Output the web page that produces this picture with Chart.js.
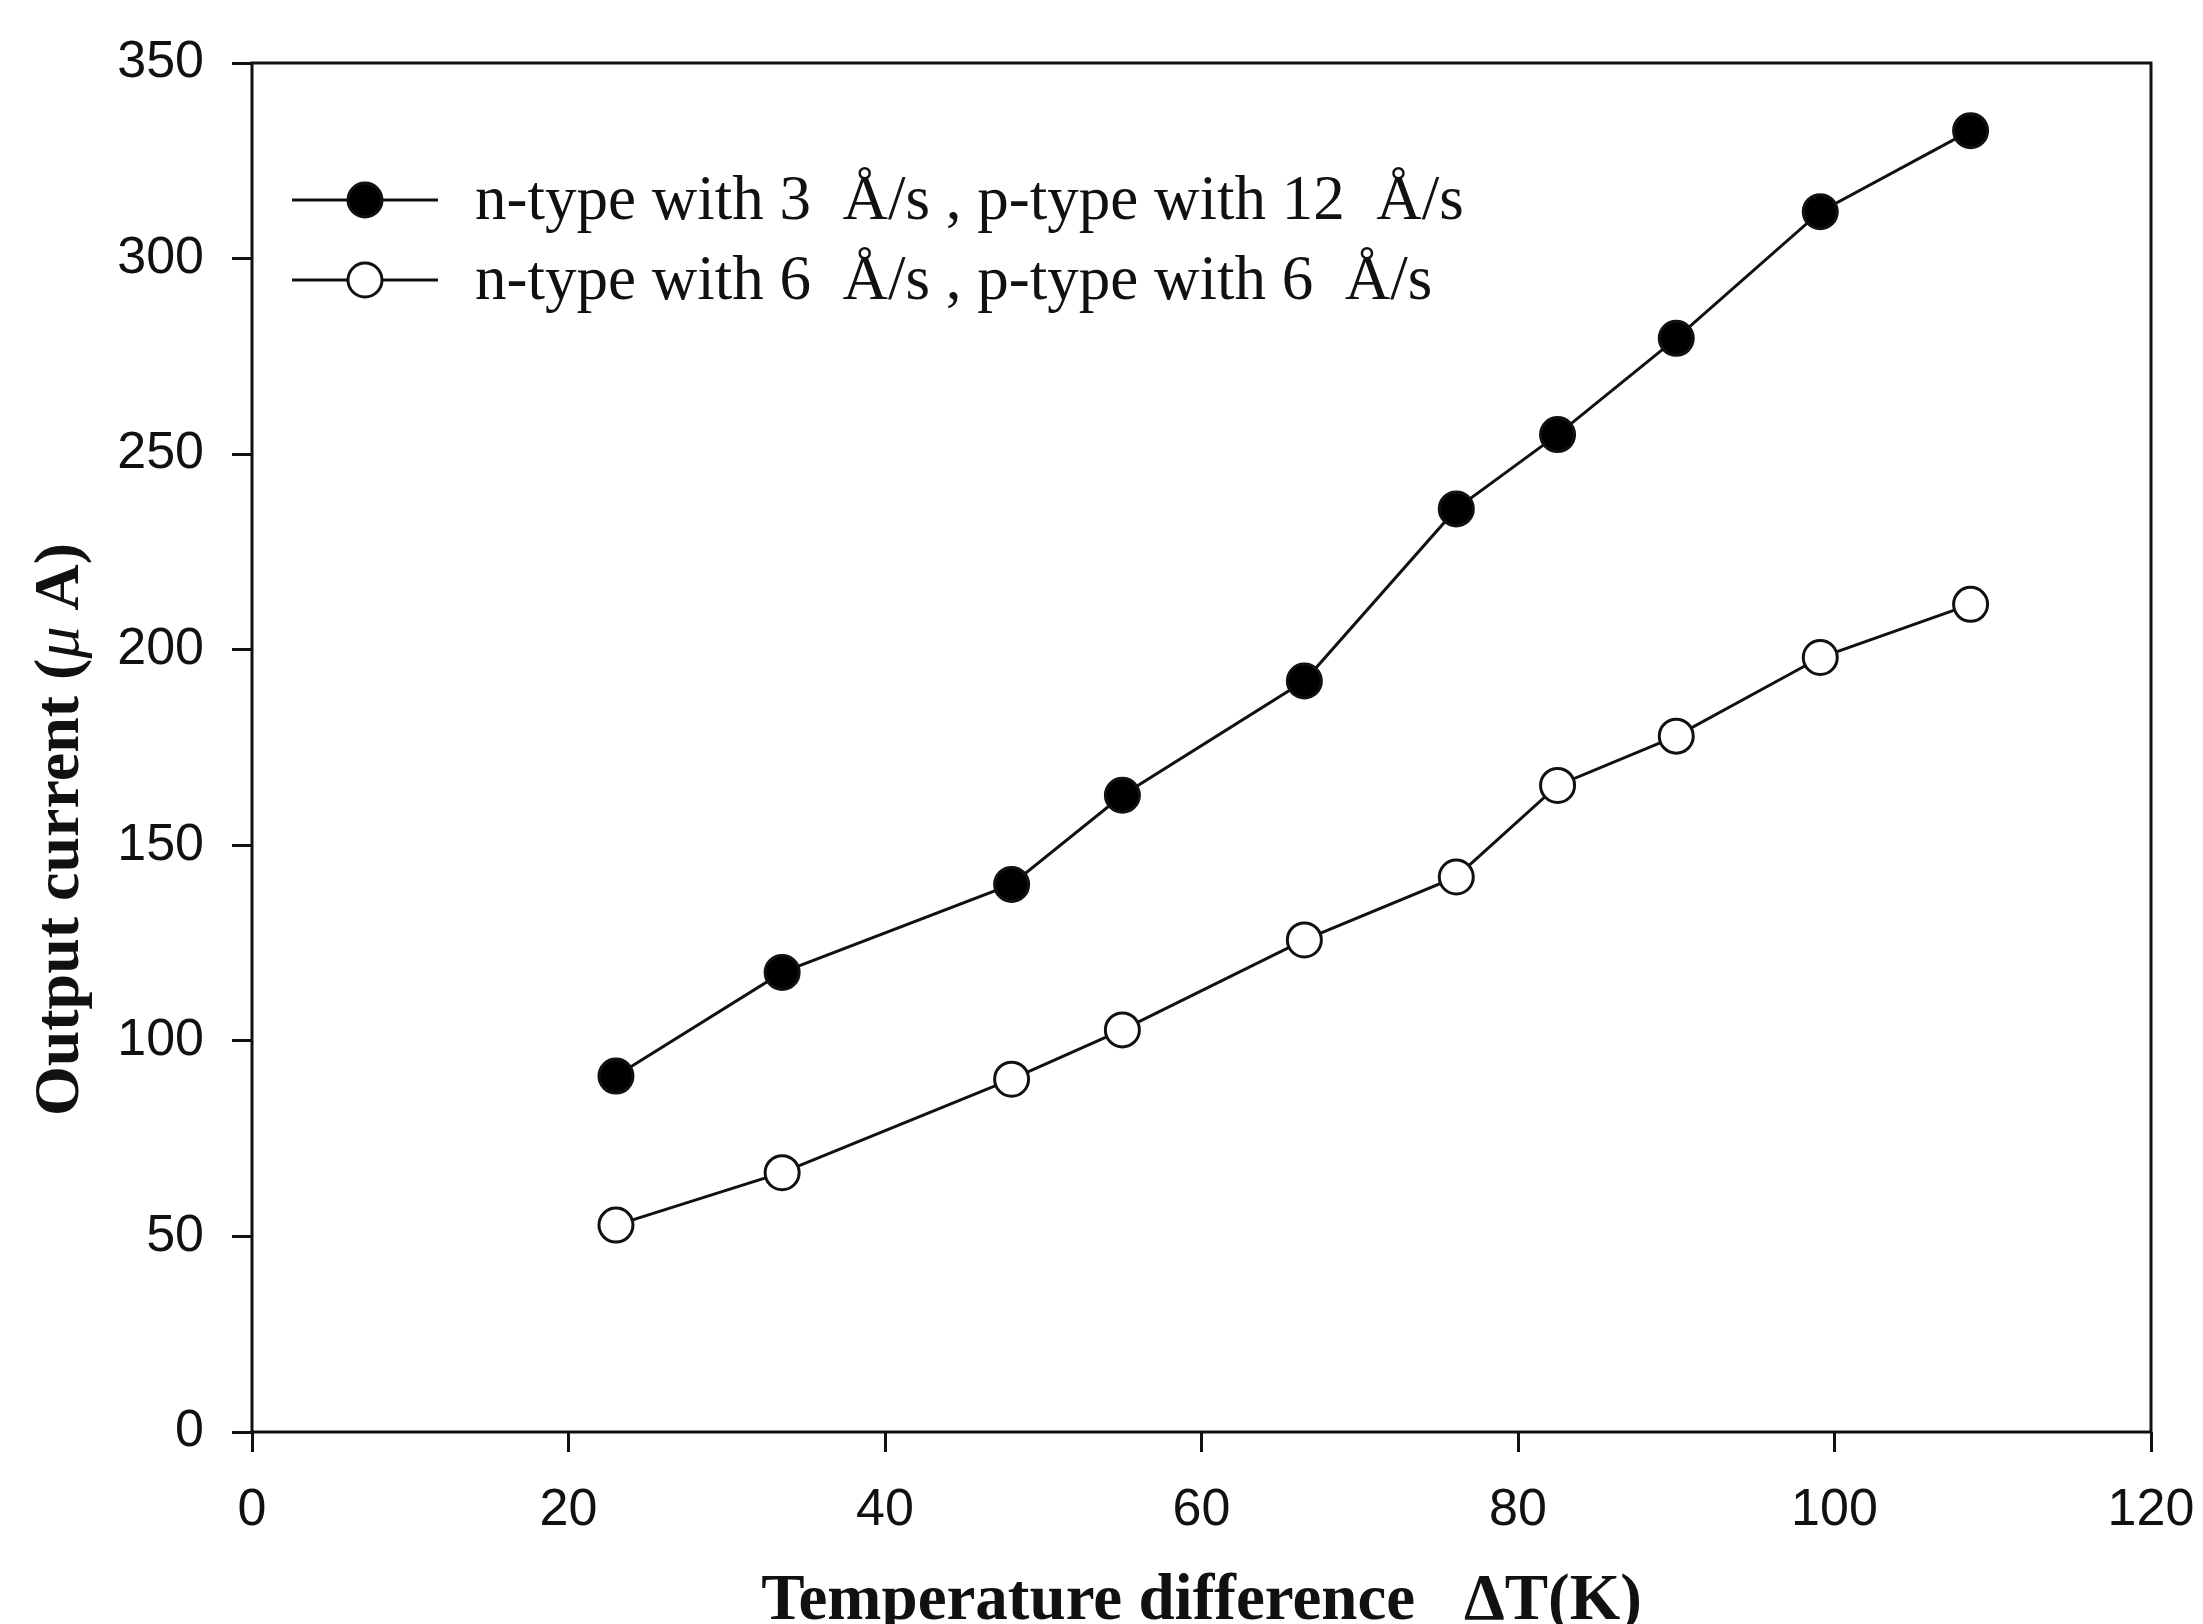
<!DOCTYPE html>
<html>
<head>
<meta charset="utf-8">
<script src="https://cdn.jsdelivr.net/npm/chart.js@4.4.1/dist/chart.umd.min.js"></script>
<style>
  html, body { margin: 0; padding: 0; background: #fff; }
  canvas { display: block; }
</style>
</head>
<body>
<canvas id="myChart" width="2203" height="1624"></canvas>
<script>
// Temperature difference (K)
const deltaT = [23.0, 33.5, 48.0, 55.0, 66.5, 76.1, 82.5, 90.0, 99.1, 108.6];
// Output current (uA)
const currentN3P12 = [91, 117.5, 140, 162.8, 192, 236, 255, 279.6, 312, 332.7];
const currentN6P6 = [52.9, 66.3, 90.2, 102.8, 125.8, 141.9, 165.3, 177.9, 198, 211.6];

const seriesLabels = ['n-type with 3  Å/s , p-type with 12  Å/s', 'n-type with 6  Å/s , p-type with 6  Å/s'];
const xTicks = [0, 20, 40, 60, 80, 100, 120];
const yTicks = [0, 50, 100, 150, 200, 250, 300, 350];

const ink = '#111';

// frame, legend and y title drawn by hand
const framePlugin = {
    id: 'frame',
    beforeDatasetsDraw(chart) {
        const { ctx, chartArea: a } = chart;
        ctx.save();
        ctx.strokeStyle = ink;
        ctx.lineWidth = 3;
        ctx.strokeRect(a.left, a.top, a.right - a.left, a.bottom - a.top);
        ctx.restore();
    },
    afterDraw(chart) {
        const { ctx, chartArea: a } = chart;
        ctx.save();
        // legend
        chart.data.datasets.forEach((ds, i) => {
            const y = a.top + 137 + i * 80;
            ctx.strokeStyle = ds.borderColor;
            ctx.lineWidth = ds.borderWidth;
            ctx.beginPath();
            ctx.moveTo(a.left + 40, y);
            ctx.lineTo(a.left + 186, y);
            ctx.stroke();
            ctx.beginPath();
            ctx.arc(a.left + 113, y, ds.pointRadius, 0, Math.PI * 2);
            ctx.fillStyle = ds.pointBackgroundColor;
            ctx.fill();
            ctx.lineWidth = ds.pointBorderWidth;
            ctx.strokeStyle = ds.pointBorderColor;
            ctx.stroke();
            ctx.fillStyle = ink;
            ctx.font = '63px "Liberation Serif", "Times New Roman", serif';
            ctx.textBaseline = 'middle';
            ctx.textAlign = 'left';
            ctx.fillText(ds.label, a.left + 223, y + 2);
        });
        // y axis title
        const parts = [
            { t: 'Output current (', f: 'bold 64px "Liberation Serif", serif' },
            { t: 'μ', f: 'italic 64px "Liberation Serif", serif' },
            { t: ' A)', f: 'bold 64px "Liberation Serif", serif' }
        ];
        let total = 0;
        parts.forEach(p => { ctx.font = p.f; p.w = ctx.measureText(p.t).width; total += p.w; });
        ctx.translate(a.left - 174, (a.top + a.bottom) / 2 + 82);
        ctx.rotate(-Math.PI / 2);
        ctx.textBaseline = 'alphabetic';
        ctx.textAlign = 'left';
        ctx.fillStyle = ink;
        let x = -total / 2;
        parts.forEach(p => { ctx.font = p.f; ctx.fillText(p.t, x, 0); x += p.w; });
        ctx.restore();
    }
};

const ctx = document.getElementById('myChart').getContext('2d');
const myChart = new Chart(ctx, {
    type: 'line',
    data: {
        datasets: [{
            label: seriesLabels[0],
            data: deltaT.map((x, i) => ({ x: x, y: currentN3P12[i] })),
            borderColor: ink,
            borderWidth: 3,
            pointRadius: 17,
            pointBorderWidth: 3,
            pointBorderColor: ink,
            pointBackgroundColor: '#000',
            tension: 0
        }, {
            label: seriesLabels[1],
            data: deltaT.map((x, i) => ({ x: x, y: currentN6P6[i] })),
            borderColor: ink,
            borderWidth: 3,
            pointRadius: 17,
            pointBorderWidth: 3,
            pointBorderColor: ink,
            pointBackgroundColor: '#fff',
            tension: 0
        }]
    },
    options: {
        responsive: false,
        animation: false,
        layout: { autoPadding: false, padding: { top: 63, right: 52, left: 0, bottom: 0 } },
        scales: {
            x: {
                type: 'linear',
                min: 0,
                max: 120,
                afterBuildTicks: scale => { scale.ticks = xTicks.map(v => ({ value: v })); },
                afterFit: scale => { scale.height = 192; scale.paddingRight = 0; },
                border: { display: false },
                grid: {
                    drawOnChartArea: false,
                    drawTicks: true,
                    tickLength: 20,
                    tickWidth: 3,
                    tickColor: ink
                },
                ticks: {
                    color: ink,
                    padding: 27,
                    maxRotation: 0,
                    font: { family: '"Liberation Sans", Arial, sans-serif', size: 52 }
                },
                title: {
                    display: true,
                    text: 'Temperature difference   ΔT(K)',
                    color: ink,
                    padding: 0,
                    font: { family: '"Liberation Serif", "Times New Roman", serif', size: 65, weight: 'bold', lineHeight: 0.66 }
                }
            },
            y: {
                type: 'linear',
                min: 0,
                max: 350,
                afterBuildTicks: scale => { scale.ticks = yTicks.map(v => ({ value: v })); },
                afterFit: scale => { scale.width = 252; },
                border: { display: false },
                grid: {
                    drawOnChartArea: false,
                    drawTicks: true,
                    tickLength: 20,
                    tickWidth: 3,
                    tickColor: ink
                },
                ticks: {
                    color: ink,
                    padding: 28,
                    font: { family: '"Liberation Sans", Arial, sans-serif', size: 52 }
                }
            }
        },
        plugins: {
            legend: { display: false },
            tooltip: { enabled: false }
        }
    },
    plugins: [framePlugin]
});
</script>
</body>
</html>
